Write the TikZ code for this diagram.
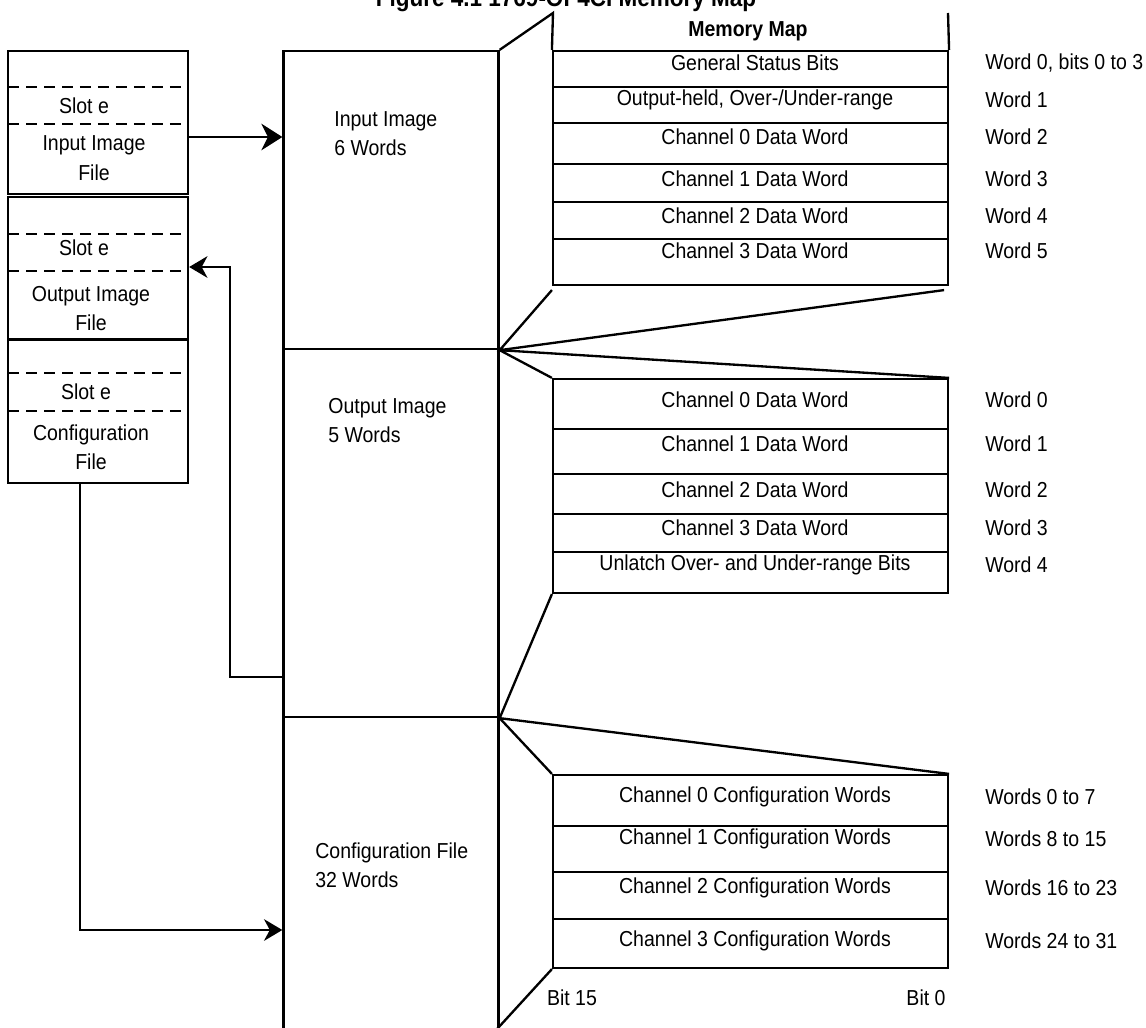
\documentclass[tikz,border=0pt]{standalone}
\usepackage{fontspec}
\setmainfont{Liberation Sans}[FakeStretch=0.9]
\usetikzlibrary{arrows.meta}

\tikzset{
  txt/.style={font=\fontsize{13}{17.6}\selectfont, inner sep=0pt},
  boldtxt/.style={txt, font=\fontsize{13}{17.6}\selectfont\bfseries},
  lbox/.style={draw, line width=1.4pt, minimum width=108pt, inner sep=0pt},
  cbox/.style={draw, line width=1.4pt, minimum width=129pt, inner sep=0pt},
  maprow/.style={draw, line width=1.3pt, minimum width=237pt, inner sep=0pt},
  slotline/.style={line width=1.5pt, dash pattern=on 6.6pt off 4.2pt},
  frame/.style={line width=1.4pt},
  feed/.style={line width=1.2pt, -{Stealth[length=11pt,width=13pt,inset=3.5pt]}},
}

\begin{document}
\begin{tikzpicture}[x=0.6pt,y=-0.6pt]
\useasboundingbox (0,0) rectangle (1146,1028);

% title, cut by the top edge
\node[boldtxt, font=\fontsize{15}{17}\selectfont\bfseries, anchor=base] (title) at (566,7) {Figure 4.1 1769-OF4CI Memory Map};

% files in the controller
\node[lbox, minimum height=85.8pt] (inbox) at (98,122.5) {};
\node[lbox, minimum height=85.2pt] (outbox) at (98,268) {};
\node[lbox, minimum height=85.8pt] (cfgbox) at (98,411.5) {};
\foreach \yy in {87,124,234,271,373,411}
  \draw[slotline] (8,\yy) -- (188,\yy);
\node[txt] (inslot) at (84,106) {Slot e};
\node[txt, align=center] (inname) at (94,158) {Input Image\\File};
\node[txt] (outslot) at (84,248) {Slot e};
\node[txt, align=center] (outname) at (91,308.5) {Output Image\\File};
\node[txt] (cfgslot) at (86,392) {Slot e};
\node[txt, align=center] (cfgname) at (91,447) {Configuration\\File};

% module images
\node[cbox, minimum height=178.8pt] (imgin) at (391,200) {};
\node[cbox, minimum height=220.8pt] (imgout) at (391,533) {};
\node[cbox, minimum height=196.8pt] (imgcfg) at (391,881) {};
\node[txt, align=left, anchor=west] (inlbl) at (334,133.5) {Input Image\\6 Words};
\node[txt, align=left, anchor=west] (outlbl) at (328,420.5) {Output Image\\5 Words};
\node[txt, align=left, anchor=west] (cfglbl) at (315,865) {Configuration File\\32 Words};

% transfers
\coordinate (inrow) at (0,137);
\draw[line width=0.7pt, -{Stealth[length=12.6pt,width=16pt,inset=4pt]}]
  (inbox.east |- inrow) -- (imgin.west |- inrow);
\coordinate (fbrow) at (230,677);
\coordinate (fbtop) at (230,267);
\draw[feed] (imgout.west |- fbrow) -- (fbrow) -- (fbtop) -- (outbox.east |- fbtop);
\coordinate (cfgcol) at (80,930);
\draw[feed] (cfgbox.south -| cfgcol) -- (cfgcol) -- (imgcfg.west |- cfgcol);

% memory map, input words
\node[boldtxt] (maphead) at (748,31) {Memory Map};
\foreach \ya/\yb/\yt/\what/\wrd [count=\i] in {
  51/87/63/General Status Bits/{Word 0, bits 0 to 3},
  87/123/100/{Output-held, Over-/Under-range}/Word 1,
  123/164/137/Channel 0 Data Word/Word 2,
  164/202/179/Channel 1 Data Word/Word 3,
  202/239/216/Channel 2 Data Word/Word 4,
  239/285/251/Channel 3 Data Word/Word 5}
{
  \node[maprow, minimum height={(\yb-\ya)*0.6pt}] (in\i) at (750.5,{(\ya+\yb)/2}) {};
  \node[txt] (inw\i) at (755,\yt) {\what};
  \node[txt, anchor=west] (inn\i) at (985,\yt) {\wrd};
}

% output words
\foreach \ya/\yb/\yt/\what/\wrd [count=\i] in {
  379/429/400/Channel 0 Data Word/Word 0,
  429/474/444/Channel 1 Data Word/Word 1,
  474/514/490/Channel 2 Data Word/Word 2,
  514/552/528/Channel 3 Data Word/Word 3,
  552/593/565/Unlatch Over- and Under-range Bits/Word 4}
{
  \node[maprow, minimum height={(\yb-\ya)*0.6pt}] (out\i) at (750.5,{(\ya+\yb)/2}) {};
  \node[txt] (outw\i) at (755,\yt) {\what};
  \node[txt, anchor=west] (outn\i) at (985,\yt) {\wrd};
}

% configuration words
\foreach \ya/\yb/\yt/\what/\wrd [count=\i] in {
  775/826/797/Channel 0 Configuration Words/Words 0 to 7,
  826/872/839/Channel 1 Configuration Words/Words 8 to 15,
  872/919/888/Channel 2 Configuration Words/Words 16 to 23,
  919/968/941/Channel 3 Configuration Words/Words 24 to 31}
{
  \node[maprow, minimum height={(\yb-\ya)*0.6pt}] (cf\i) at (750.5,{(\ya+\yb)/2}) {};
  \node[txt] (cfw\i) at (755,\yt) {\what};
  \node[txt, anchor=west] (cfn\i) at (985,\yt) {\wrd};
}
\node[txt] (bithi) at (572,998) {Bit 15};
\node[txt] (bitlo) at (926,998) {Bit 0};

% perspective frame
\coordinate (mapul) at (553,13);
\coordinate (mapur) at (948,13);
\coordinate (cfgfoot) at (487,1040);
\draw[frame] (imgin.north east) -- (mapul) -- (in1.north west);
\draw[frame] (mapur) -- (in1.north east);
\draw[frame] ([yshift=-2.4pt]in6.south west) -- (imgin.south east)
  -- ([xshift=-3pt,yshift=-2.4pt]in6.south east);
\draw[frame] (out1.north west) -- (imgin.south east) -- (out1.north east);
\draw[frame] (out5.south west) -- (imgout.south east);
\draw[frame] (cf1.north west) -- (imgout.south east) -- (cf1.north east);
\draw[frame] (cf4.south west) -- (cfgfoot);
\end{tikzpicture}
\end{document}
